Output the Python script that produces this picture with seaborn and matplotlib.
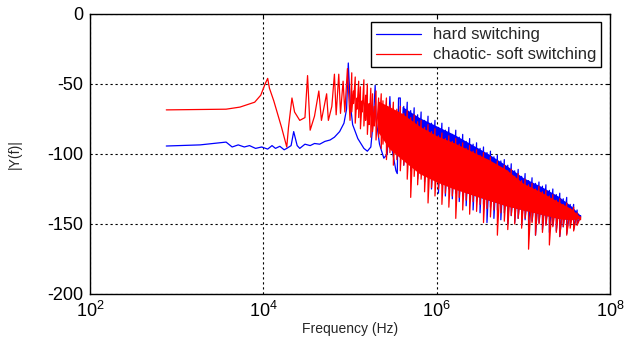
import numpy as np
import pandas as pd
import matplotlib
matplotlib.use("Agg")
import matplotlib.pyplot as plt
from matplotlib.ticker import FixedLocator, NullLocator, LogFormatterSciNotation
import seaborn as sns

# ---------------- data ----------------
# log10(frequency) positions and |Y(f)| values
blue_lf_logf = [2.88, 3.27, 3.57, 3.64, 3.71, 3.78, 3.84, 3.91, 3.98, 4.05, 4.10, 4.14,
                4.19, 4.24, 4.27, 4.32, 4.35, 4.39, 4.42, 4.48, 4.54, 4.59, 4.65, 4.71,
                4.77, 4.82, 4.88, 4.93, 4.96, 4.98, 5.00, 5.03, 5.09, 5.16, 5.20, 5.24,
                5.27, 5.29, 5.30, 5.34, 5.39, 5.43, 5.46, 5.48, 5.53, 5.545, 5.56]
blue_lf_val = [-94.3, -93.5, -91.5, -95, -93.5, -95, -94, -96, -95, -96.5, -94, -96,
               -94.5, -97, -96, -94, -84, -94, -96, -93, -94, -92.5, -93, -91,
               -90, -88, -84, -78, -68, -35, -62, -79, -89, -96, -98, -95,
               -75, -51, -75, -93, -103, -100, -59, -95, -112, -114, -60]

blue_hf_logf = [5.58, 5.62, 5.66, 5.70, 5.74, 5.78, 5.82, 5.86, 5.90, 5.94, 5.98, 6.02,
                6.06, 6.10, 6.14, 6.18, 6.22, 6.26, 6.30, 6.34, 6.38, 6.42, 6.46, 6.50,
                6.54, 6.58, 6.62, 6.66, 6.70, 6.74, 6.78, 6.82, 6.86, 6.90, 6.94, 6.98,
                7.02, 7.06, 7.10, 7.14, 7.18, 7.22, 7.26, 7.30, 7.34, 7.38, 7.42, 7.46,
                7.50, 7.54, 7.58, 7.62, 7.66]
blue_hf_top = [-60, -66, -63, -69, -67, -72, -70, -76, -73, -78, -76, -81,
               -78, -83, -81, -86, -83, -88, -86, -91, -89, -93, -92, -96,
               -95, -99, -98, -102, -101, -105, -104, -108, -107, -112, -111, -116,
               -114, -119, -117, -121, -120, -123, -122, -126, -125, -129, -128, -132,
               -131, -136, -136, -140, -144]
blue_hf_bot = [-100, -108, -104, -112, -108, -118, -112, -120, -116, -125, -118, -128,
               -122, -130, -125, -132, -128, -134, -130, -137, -132, -140, -134, -142,
               -136, -149, -138, -146, -140, -147, -142, -150, -144, -149, -146, -151,
               -147, -152, -148, -158, -149, -154, -150, -156, -151, -155, -159, -152,
               -157, -151, -154, -150, -145]
blue_core_logf = [5.60, 5.80, 6.00, 6.20, 6.40, 6.60, 6.80, 7.00, 7.20, 7.40, 7.55, 7.66]
blue_core_upper = [-66, -74, -80, -86, -93, -100, -108, -117, -123, -130, -137, -144]
blue_core_lower = [-95, -108, -117, -124, -129, -133, -137, -140, -143, -146, -147, -145]

red_lf_logf = [2.88, 3.57, 3.73, 3.90, 3.97, 4.02, 4.05, 4.07, 4.12, 4.21, 4.27, 4.29,
               4.33, 4.36, 4.42, 4.48, 4.51, 4.54, 4.59, 4.64, 4.67, 4.73, 4.75, 4.79,
               4.82, 4.84, 4.87, 4.89, 4.92, 4.94, 4.97, 5.00]
red_lf_val = [-68.5, -68, -66.5, -63, -58, -50, -46, -53, -62, -81, -95, -81,
              -60, -70, -76, -74, -44, -83, -73, -55, -76, -57, -76, -66,
              -43, -72, -43, -71, -48, -70, -39, -76]

red_hf_logf = [5.02, 5.04, 5.06, 5.08, 5.10, 5.12, 5.14, 5.16, 5.18, 5.20, 5.22, 5.24,
               5.26, 5.28, 5.30, 5.33, 5.36, 5.38, 5.42, 5.46,
               5.50, 5.54, 5.58, 5.62, 5.66, 5.70, 5.74, 5.78, 5.82, 5.86, 5.90, 5.94,
               5.98, 6.02, 6.06, 6.10, 6.14, 6.18, 6.22, 6.26, 6.30, 6.34, 6.38, 6.42,
               6.46, 6.50, 6.54, 6.58, 6.62, 6.66, 6.70, 6.74, 6.78, 6.82, 6.86, 6.90,
               6.94, 6.98, 7.02, 7.06, 7.10, 7.14, 7.18, 7.22, 7.26, 7.30, 7.34, 7.38,
               7.42, 7.46, 7.50, 7.54, 7.58, 7.62, 7.66]
red_hf_top = [-42, -55, -45, -60, -48, -52, -62, -47, -58, -50, -64, -53,
              -57, -66, -55, -60, -57, -62, -60, -65,
              -63, -68, -66, -71, -69, -74, -72, -77, -76, -81, -79, -84,
              -82, -87, -85, -89, -87, -91, -89, -93, -92, -96, -94, -98,
              -97, -101, -99, -104, -102, -107, -105, -110, -108, -112, -111, -116,
              -114, -119, -118, -122, -121, -125, -123, -127, -126, -130, -129, -133,
              -132, -136, -135, -139, -138, -142, -145]
red_hf_bot = [-70, -64, -78, -68, -74, -82, -70, -80, -76, -86, -79, -88,
              -84, -80, -90, -88, -96, -93, -104, -99,
              -108, -104, -112, -108, -118, -131, -116, -122, -118, -127, -135, -124,
              -130, -125, -136, -128, -138, -130, -146, -131, -140, -133, -143, -134,
              -141, -136, -149, -139, -145, -140, -158, -142, -148, -154, -144, -150,
              -146, -153, -146, -168, -149, -158, -150, -156, -151, -165, -152, -156,
              -159, -152, -158, -153, -155, -151, -147]
red_core_logf = [5.32, 5.45, 5.60, 5.80, 6.00, 6.20, 6.40, 6.60, 6.80, 7.00, 7.20,
                 7.40, 7.55, 7.66]
red_core_upper = [-62, -66, -71, -80, -87, -92, -98, -104, -111, -121, -127,
                  -134, -139, -145]
red_core_lower = [-84, -96, -104, -114, -120, -125, -129, -133, -137, -140, -143,
                  -146, -147, -146]

series_names = ["hard switching", "chaotic- soft switching"]
x_ticks = [1e2, 1e4, 1e6, 1e8]
y_ticks = [-200, -150, -100, -50, 0]

# ---------------- helpers ----------------
def zigzag(logf, top, bot):
    xs, ys = [], []
    for lf, t, b in zip(logf, top, bot):
        xs += [10 ** lf, 10 ** lf]
        ys += [t, b]
    return xs, ys

def trace(lf_logf, lf_val, hf_logf, hf_top, hf_bot):
    zx, zy = zigzag(hf_logf, hf_top, hf_bot)
    x = [10 ** v for v in lf_logf] + zx
    y = list(lf_val) + zy
    return pd.DataFrame({"f": x, "Y": y})

blue_df = trace(blue_lf_logf, blue_lf_val, blue_hf_logf, blue_hf_top, blue_hf_bot)
red_df = trace(red_lf_logf, red_lf_val, red_hf_logf, red_hf_top, red_hf_bot)

# ---------------- plot ----------------
sns.set_theme(style="white")
plt.rcParams["font.family"] = ["Liberation Sans", "DejaVu Sans"]

fig = plt.figure(figsize=(6.26, 3.43), dpi=100)
ax = fig.add_axes([0.1438, 0.1429, 0.8307, 0.8163])

BLUE = (0, 0, 1)
RED = (1, 0, 0)
lw = 0.9

ax.fill_between([10 ** v for v in blue_core_logf], blue_core_lower, blue_core_upper,
                color=BLUE, linewidth=0, zorder=2)
sns.lineplot(data=blue_df, x="f", y="Y", sort=False, estimator=None, color=BLUE,
             linewidth=lw, ax=ax, label=series_names[0], zorder=2)
ax.fill_between([10 ** v for v in red_core_logf], red_core_lower, red_core_upper,
                color=RED, linewidth=0, zorder=3)
sns.lineplot(data=red_df, x="f", y="Y", sort=False, estimator=None, color=RED,
             linewidth=lw, ax=ax, label=series_names[1], zorder=3)

ax.set_xscale("log")
ax.set_xlim(1e2, 1e8)
ax.set_ylim(-200, 0)
ax.xaxis.set_major_locator(FixedLocator(x_ticks))
ax.xaxis.set_minor_locator(NullLocator())
ax.xaxis.set_major_formatter(LogFormatterSciNotation())
ax.set_yticks(y_ticks)
ax.set_yticklabels([str(v) for v in y_ticks])

ax.grid(True, which="major", color="black", linestyle=(0, (2, 2.5)), linewidth=0.8)
ax.tick_params(axis="both", which="major", direction="in", length=3, width=0.8,
               top=True, right=True, labelsize=13, pad=5, colors="black")
for s in ax.spines.values():
    s.set_color("black")
    s.set_linewidth(1.0)

ax.set_xlabel("Frequency (Hz)", fontsize=10, labelpad=1)
ax.set_ylabel("|Y(f)|", fontsize=10, labelpad=18)

leg = ax.legend(loc="upper right", bbox_to_anchor=(0.983, 0.97), fontsize=12,
                frameon=True, fancybox=False, framealpha=1, edgecolor="black",
                handlelength=2.7, borderpad=0.3, labelspacing=0.3, handletextpad=0.7,
                borderaxespad=0)
leg.get_frame().set_linewidth(1.0)

fig.savefig("out.png", dpi=100)
